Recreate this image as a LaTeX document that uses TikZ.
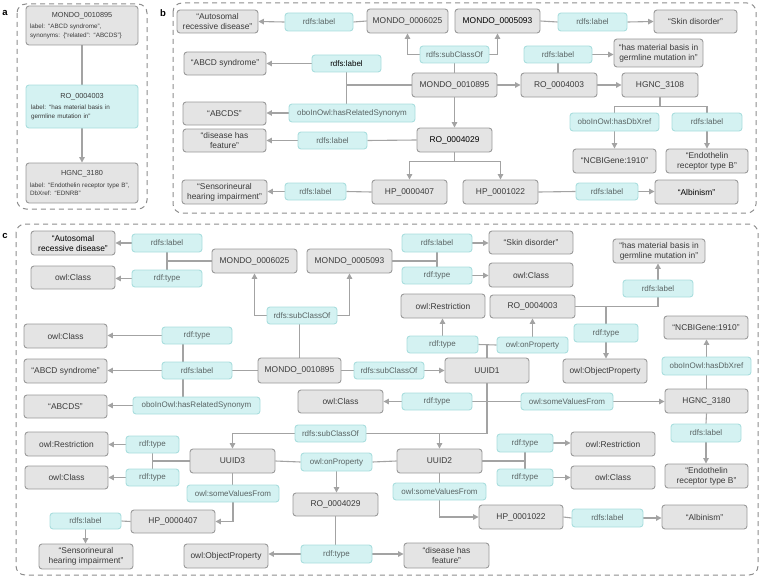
\documentclass[tikz,border=0pt]{standalone}
\usepackage{fontspec}
\setmainfont{Liberation Sans}
\usetikzlibrary{arrows.meta,backgrounds}
\definecolor{gfill}{HTML}{E4E4E4}
\definecolor{gline}{HTML}{9A9A9A}
\definecolor{cfill}{HTML}{D4F2F2}
\definecolor{cline}{HTML}{A9DEDE}
\definecolor{ntext}{HTML}{3A3A3A}
\definecolor{ctext}{HTML}{5A6464}
\definecolor{conn}{HTML}{A3A3A3}
\definecolor{framec}{HTML}{8E8E8E}
\tikzset{
 base/.style={rounded corners=3pt, line width=0.9pt, inner sep=0pt, align=center},
 gbox/.style={base, draw=gline, fill=gfill, text=ntext, font=\fontsize{8.4}{10}\selectfont},
 cbox/.style={base, draw=cline, fill=cfill, text=ctext, font=\fontsize{8}{10}\selectfont},
 dark/.style={text=black},
 line/.style={draw=conn, line width=1.1pt},
 arr/.style={line, -{Triangle[length=5.5pt,width=5.5pt]}},
 panel/.style={draw=framec, line width=1pt, dash pattern=on 5pt off 4pt, rounded corners=9pt},
 tag/.style={font=\fontsize{9.5}{11}\selectfont\bfseries, text=black},
}
\newcommand\NB[7]{\node[#1, minimum width={(#4)-(#2)}, minimum height={(#5)-(#3)}] (#6) at ({((#2)+(#4))/2},{((#3)+(#5))/2}) {#7};}
\begin{document}
\begin{tikzpicture}[x=1pt,y=-1pt]
\useasboundingbox (0,0) rectangle (760,578);
% tags
\node[tag] (ta) at (5,13) {a};
\node[tag] (tb) at (163,13) {b};
\node[tag] (tc) at (5,236) {c};
% ---------------- panel a
\node[gbox, minimum width=112, minimum height=39, text width=104, align=left, font=\fontsize{6.3}{8.5}\selectfont] (aM) at (82,25.5)
 {\makebox[\linewidth]{\fontsize{7.3}{9}\selectfont MONDO\_0010895}\\[3pt] label: “ABCD syndrome”,\\ synonyms: \{“related”: “ABCDS”\}};
\node[cbox, text=ntext, minimum width=112, minimum height=43, text width=102, align=left, font=\fontsize{6.3}{8.5}\selectfont] (aR) at (82,106.5)
 {\makebox[\linewidth]{\fontsize{7.3}{9}\selectfont RO\_0004003}\\[3pt] label: “has material basis in\\ germline mutation in”};
\node[gbox, minimum width=112, minimum height=40, text width=104, align=left, font=\fontsize{6.3}{8.5}\selectfont] (aH) at (82,183)
 {\makebox[\linewidth]{\fontsize{7.3}{9}\selectfont HGNC\_3180}\\[3pt] label: “Endothelin receptor type B”,\\ DbXref: “EDNRB”};
% ---------------- panel b
\NB{gbox}{177}{10}{258}{33}{bAut}{“Autosomal\\recessive disease”}
\NB{cbox}{285}{13}{353}{31}{bL1}{rdfs:label}
\NB{gbox}{367}{9}{448}{33}{bM6025}{MONDO\_0006025}
\NB{gbox,dark}{455}{9}{540}{33}{bM5093}{MONDO\_0005093}
\NB{cbox}{558}{13}{627}{31}{bL2}{rdfs:label}
\NB{gbox}{654}{10}{737}{33}{bSkin}{“Skin disorder”}
\NB{cbox}{420}{46}{489}{63}{bSub}{rdfs:subClassOf}
\NB{cbox}{524}{46}{592}{63}{bL3}{rdfs:label}
\NB{gbox}{614}{39}{703}{67}{bHas}{“has material basis in\\germline mutation in”}
\NB{gbox}{184}{52}{266}{75}{bABCD}{“ABCD syndrome”}
\NB{cbox,dark}{312}{55}{381}{72}{bL4}{rdfs:label}
\NB{gbox}{412}{73}{497}{97}{bM}{MONDO\_0010895}
\NB{gbox}{521}{73}{597}{97}{bRO3}{RO\_0004003}
\NB{gbox}{622}{73}{698}{97}{bHG}{HGNC\_3108}
\NB{gbox}{183}{102}{266}{125}{bABCDS}{“ABCDS”}
\NB{cbox}{289}{104}{415}{122}{bSyn}{oboInOwl:hasRelatedSynonym}
\NB{cbox}{570}{113}{659}{131}{bXref}{oboInOwl:hasDbXref}
\NB{cbox}{672}{113}{742}{131}{bL5}{rdfs:label}
\NB{gbox}{183}{129}{266}{152}{bDis}{“disease has\\feature”}
\NB{cbox}{298}{132}{367}{149}{bL6}{rdfs:label}
\NB{gbox,dark}{417}{128}{492}{152}{bRO29}{RO\_0004029}
\NB{gbox}{573}{149}{656}{173}{bNCBI}{“NCBIGene:1910”}
\NB{gbox}{666}{149}{748}{173}{bEnd}{“Endothelin\\receptor type B”}
\NB{gbox}{182}{180}{267}{204}{bSens}{“Sensorineural\\hearing impairment”}
\NB{cbox}{285}{183}{346}{200}{bL7}{rdfs:label}
\NB{gbox}{372}{180}{447}{204}{bHP7}{HP\_0000407}
\NB{gbox}{463}{180}{538}{204}{bHP2}{HP\_0001022}
\NB{cbox}{576}{183}{638}{200}{bL8}{rdfs:label}
\NB{gbox,dark}{655}{180}{738}{204}{bAlb}{“Albinism”}
% ---------------- panel c
\NB{gbox,dark}{31}{231}{115}{255}{cAut}{“Autosomal\\recessive disease”}
\NB{cbox}{132}{234}{202}{252}{cL1}{rdfs:label}
\NB{cbox}{132}{270}{202}{287}{cT1}{rdf:type}
\NB{gbox}{31}{266}{115}{289}{cCls1}{owl:Class}
\NB{gbox}{212}{249}{297}{273}{cM6025}{MONDO\_0006025}
\NB{gbox}{307}{249}{392}{273}{cM5093}{MONDO\_0005093}
\NB{cbox}{402}{234}{472}{252}{cL2}{rdfs:label}
\NB{cbox}{402}{267}{472}{284}{cT2}{rdf:type}
\NB{gbox}{489}{231}{573}{254}{cSkin}{“Skin disorder”}
\NB{gbox}{489}{263}{573}{287}{cCls2}{owl:Class}
\NB{gbox}{613}{239}{705}{263}{cHas}{“has material basis in\\germline mutation in”}
\NB{cbox}{623}{280}{693}{297}{cL3}{rdfs:label}
\NB{gbox}{401}{294}{485}{318}{cRes1}{owl:Restriction}
\NB{gbox}{490}{295}{575}{318}{cRO3}{RO\_0004003}
\NB{cbox}{267}{307}{337}{324}{cSub1}{rdfs:subClassOf}
\NB{gbox}{664}{316}{748}{339}{cNCBI}{“NCBIGene:1910”}
\NB{gbox}{24}{324}{107}{348}{cCls3}{owl:Class}
\NB{cbox}{162}{327}{232}{344}{cT3}{rdf:type}
\NB{cbox}{574}{324}{638}{342}{cT4}{rdf:type}
\NB{cbox}{407}{336}{478}{353}{cT5}{rdf:type}
\NB{cbox}{497}{337}{568}{353}{cOnP1}{owl:onProperty}
\NB{gbox}{24}{359}{107}{383}{cABCD}{“ABCD syndrome”}
\NB{cbox}{162}{362}{232}{379}{cL4}{rdfs:label}
\NB{gbox}{258}{358}{341}{383}{cM}{MONDO\_0010895}
\NB{cbox}{354}{362}{424}{379}{cSub2}{rdfs:subClassOf}
\NB{gbox}{445}{358}{529}{383}{cU1}{UUID1}
\NB{gbox}{563}{359}{647}{383}{cOP1}{owl:ObjectProperty}
\NB{cbox}{662}{357}{751}{375}{cXref}{oboInOwl:hasDbXref}
\NB{gbox}{298}{390}{383}{413}{cCls4}{owl:Class}
\NB{cbox}{402}{393}{472}{410}{cT6}{rdf:type}
\NB{cbox}{521}{393}{613}{410}{cSvf1}{owl:someValuesFrom}
\NB{gbox}{665}{389}{748}{413}{cHG}{HGNC\_3180}
\NB{gbox}{24}{395}{107}{418}{cABCDS}{“ABCDS”}
\NB{cbox}{133}{397}{260}{414}{cSyn}{oboInOwl:hasRelatedSynonym}
\NB{cbox}{295}{425}{366}{442}{cSub3}{rdfs:subClassOf}
\NB{cbox}{671}{424}{741}{442}{cL5}{rdfs:label}
\NB{gbox}{25}{432}{108}{456}{cRes2}{owl:Restriction}
\NB{cbox}{126}{436}{179}{453}{cT7}{rdf:type}
\NB{cbox}{497}{434}{553}{452}{cT8}{rdf:type}
\NB{gbox}{571}{432}{655}{456}{cRes3}{owl:Restriction}
\NB{gbox}{190}{449}{275}{473}{cU3}{UUID3}
\NB{cbox}{301}{453}{372}{471}{cOnP2}{owl:onProperty}
\NB{gbox}{397}{449}{482}{473}{cU2}{UUID2}
\NB{gbox}{25}{466}{108}{489}{cCls5}{owl:Class}
\NB{cbox}{126}{469}{179}{486}{cT9}{rdf:type}
\NB{cbox}{497}{469}{553}{486}{cT10}{rdf:type}
\NB{gbox}{571}{466}{655}{489}{cCls6}{owl:Class}
\NB{gbox}{665}{464}{748}{488}{cEnd}{“Endothelin\\receptor type B”}
\NB{cbox}{187}{485}{279}{502}{cSvf2}{owl:someValuesFrom}
\NB{cbox}{393}{483}{486}{500}{cSvf3}{owl:someValuesFrom}
\NB{gbox}{293}{493}{378}{516}{cRO29}{RO\_0004029}
\NB{gbox}{131}{510}{215}{533}{cHP7}{HP\_0000407}
\NB{cbox}{50}{513}{121}{529}{cL6}{rdfs:label}
\NB{gbox}{479}{505}{563}{529}{cHP2}{HP\_0001022}
\NB{cbox}{572}{509}{643}{527}{cL7}{rdfs:label}
\NB{gbox}{662}{505}{747}{529}{cAlb}{“Albinism”}
\NB{gbox}{39}{544}{133}{569}{cSens}{“Sensorineural\\hearing impairment”}
\NB{gbox}{184}{544}{268}{568}{cOP2}{owl:ObjectProperty}
\NB{cbox}{301}{545}{372}{563}{cT11}{rdf:type}
\NB{gbox}{404}{543}{489}{568}{cDis}{“disease has\\feature”}
\coordinate (vx) at (183,0);
\begin{pgfonlayer}{background}
% frames
\draw[panel] (17,4) rectangle (147,209);
\draw[panel] (173,3) rectangle (756,213);
\draw[panel] (16,224) rectangle (758,575);
% panel a
\draw[line] (aM.south) -- (aR.north);
\draw[arr] (aR.south) -- (aH.north);
% panel b
\draw[line] (bM6025.west) -- (bL1.east);
\draw[arr] (bL1.west) -- (bAut.east);
\draw[line] (bM5093.east) -- (bL2.west);
\draw[arr] (bL2.east) -- (bSkin.west);
\draw[line] (bM.north) -- (bSub.south);
\draw[arr] (bSub.west) -| (bM6025.south);
\draw[arr] (bSub.east) -| (bM5093.south);
\draw[arr] (bM.east) -- (bRO3.west);
\draw[arr] (bRO3.east) -- (bHG.west);
\draw[line] (bL3.south) -- (bL3.south |- bRO3.north);
\draw[arr] (bL3.east) -- (bL3.east -| bHas.west);
\draw[line] (bHG.south) -- ++(0,9) coordinate (bj1);
\draw[line] (bj1) -| (bXref.north);
\draw[line] (bj1) -| (bL5.north);
\draw[arr] (bXref.south) -- (bNCBI.north);
\draw[arr] (bL5.south) -- (bEnd.north);
\draw[line] (bM.west) -- (bM.west -| bL4.south);
\draw[line] (bL4.south) -- (bL4.south |- bSyn.north);
\draw[arr] (bL4.west) -- (bL4.west -| bABCD.east);
\draw[arr] (bSyn.west) -- (bSyn.west -| bABCDS.east);
\draw[arr] (bM.south) -- (bRO29.north);
\draw[line] (bRO29.west) -- (bL6.east);
\draw[arr] (bL6.west) -- (bL6.west -| bDis.east);
\draw[line] (bRO29.south) -- ++(0,9) coordinate (bj2);
\draw[arr] (bj2) -| (bHP7.north);
\draw[arr] (bj2) -| (bHP2.north);
\draw[line] (bHP7.west) -- (bL7.east);
\draw[arr] (bL7.west) -- (bL7.west -| bSens.east);
\draw[line] (bHP2.east) -- (bL8.west);
\draw[arr] (bL8.east) -- (bL8.east -| bAlb.west);
% panel c
\draw[line] (cM6025.west) -- (cM6025.west -| cL1.south);
\draw[line] (cL1.south) -- (cT1.north);
\draw[arr] (cL1.west) -- (cL1.west -| cAut.east);
\draw[arr] (cT1.west) -- (cT1.west -| cCls1.east);
\draw[line] (cM5093.east) -- (cM5093.east -| cL2.south);
\draw[line] (cL2.south) -- (cT2.north);
\draw[arr] (cL2.east) -- (cL2.east -| cSkin.west);
\draw[arr] (cT2.east) -- (cT2.east -| cCls2.west);
\draw[line] (cM.north) -- (cM.north |- cSub1.south);
\draw[arr] (cSub1.west) -| (cM6025.south);
\draw[arr] (cSub1.east) -| (cM5093.south);
\draw[line] (cM.west) -- (cL4.east);
\draw[line] (cT3.south -| vx) -- (cL4.north -| vx);
\draw[line] (cL4.south -| vx) -- (cSyn.north -| vx);
\draw[arr] (cT3.west) -- (cT3.west -| cCls3.east);
\draw[arr] (cL4.west) -- (cL4.west -| cABCD.east);
\draw[arr] (cSyn.west) -- (cSyn.west -| cABCDS.east);
\draw[line] (cM.east) -- (cSub2.west);
\draw[arr] (cSub2.east) -- (cU1.west);
\draw[line] (cU1.north) -- (cU1.north |- cT5.east);
\draw[line] (cT5.east) -- (cOnP1.west);
\draw[arr] (cT5.north) -- (cT5.north |- cRes1.south);
\draw[arr] (cOnP1.north) -- (cOnP1.north |- cRO3.south);
\draw[line] (cRO3.east) -- (cRO3.east -| cL3.south);
\draw[line] (cRO3.east -| cL3.south) -- (cL3.south);
\draw[arr] (cL3.north) -- (cL3.north |- cHas.south);
\draw[line] (cRO3.east -| cT4.north) -- (cT4.north);
\draw[arr] (cT4.south) -- (cT4.south |- cOP1.north);
\draw[line] (cU1.south) -- (cU1.south |- cSub3.east);
\draw[line] (cU1.south |- cSub3.east) -- (cSub3.east);
\draw[arr] (cSub3.west) -| (cU3.north);
\draw[arr] (cU2.north |- cSub3.east) -- (cU2.north);
\draw[arr] (cT6.west) -- (cT6.west -| cCls4.east);
\draw[line] (cT6.east) -- (cSvf1.west);
\draw[arr] (cSvf1.east) -- (cSvf1.east -| cHG.west);
\draw[line] (cHG.north) -- (cXref.south);
\draw[arr] (cXref.north) -- (cXref.north |- cNCBI.south);
\draw[line] (cHG.south) -- (cL5.north);
\draw[arr] (cL5.south) -- (cL5.south |- cEnd.north);
\draw[line] (cU3.east) -- (cOnP2.west);
\draw[line] (cOnP2.east) -- (cU2.west);
\draw[arr] (cOnP2.south) -- (cOnP2.south |- cRO29.north);
\draw[line] (cU3.west) -- (cU3.west -| cT7.south);
\draw[line] (cT7.south) -- (cT9.north);
\draw[arr] (cT7.west) -- (cT7.west -| cRes2.east);
\draw[arr] (cT9.west) -- (cT9.west -| cCls5.east);
\draw[line] (cU3.south) -- (cU3.south |- cSvf2.north);
\draw[arr] (cSvf2.south) |- (cHP7.east);
\draw[line] (cHP7.west) -- (cL6.east);
\draw[arr] (cL6.south) -- (cL6.south |- cSens.north);
\draw[line] (cU2.east) -- (cU2.east -| cT8.south);
\draw[line] (cT8.south) -- (cT10.north);
\draw[arr] (cT8.east) -- (cT8.east -| cRes3.west);
\draw[arr] (cT10.east) -- (cT10.east -| cCls6.west);
\draw[line] (cU2.south) -- (cU2.south |- cSvf3.north);
\draw[arr] (cSvf3.south) |- (cHP2.west);
\draw[line] (cHP2.east) -- (cL7.west);
\draw[arr] (cL7.east) -- (cL7.east -| cAlb.west);
\draw[line] (cRO29.south) -- (cRO29.south |- cT11.north);
\draw[arr] (cT11.west) -- (cT11.west -| cOP2.east);
\draw[arr] (cT11.east) -- (cT11.east -| cDis.west);
\end{pgfonlayer}
\end{tikzpicture}
\end{document}
